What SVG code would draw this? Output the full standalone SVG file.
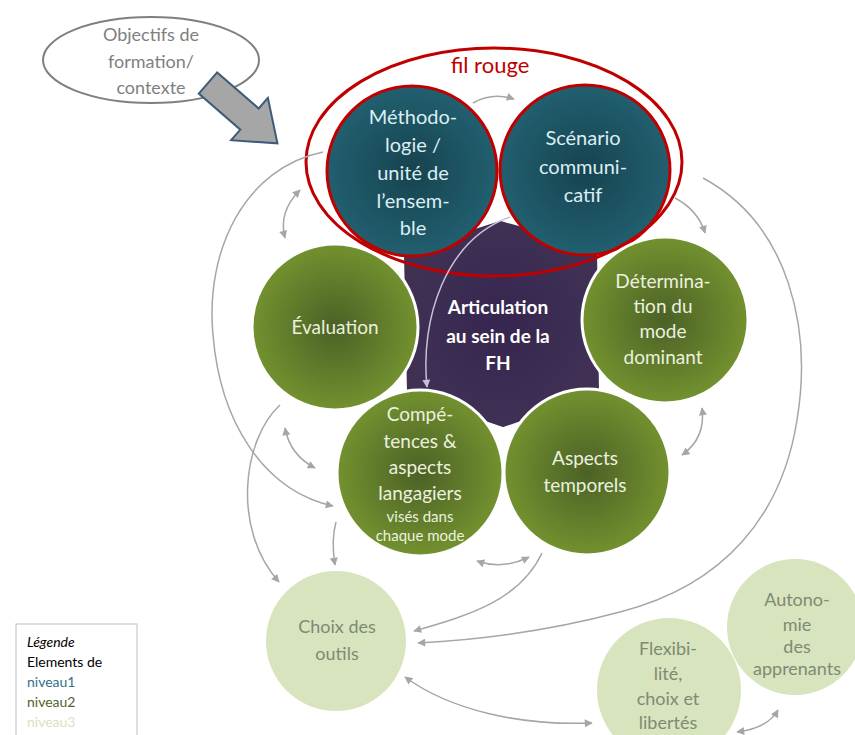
<svg xmlns="http://www.w3.org/2000/svg" width="855" height="735" viewBox="0 0 855 735">
<defs>
<style>
.t{font-family:Lato,"Liberation Sans",sans-serif;text-anchor:middle}
.con{fill:none;stroke:#a6a6a6;stroke-width:1.5}
.teal{fill:url(#gTeal);stroke:#c00000;stroke-width:3}
.grn{fill:url(#gGrn);stroke:#ffffff;stroke-width:3}
.lgt{fill:#d7e4bd}
.tt{fill:#dbeef4;font-size:20px}
.gt{fill:#ebf1de;font-size:19px}
.lt{fill:#7f8a74;font-size:18px}
</style>
<radialGradient id="gTeal" cx="50%" cy="50%" r="50%"><stop offset="0" stop-color="#17434f"/><stop offset="1" stop-color="#215f6f"/></radialGradient>
<radialGradient id="gGrn" cx="50%" cy="50%" r="50%"><stop offset="0" stop-color="#4b6126"/><stop offset="1" stop-color="#73912f"/></radialGradient>
<radialGradient id="gPur" cx="50%" cy="50%" r="50%"><stop offset="0" stop-color="#362650"/><stop offset="1" stop-color="#3f3054"/></radialGradient>
<marker id="ah" viewBox="0 0 10 10" refX="9" refY="5" markerWidth="9" markerHeight="8" markerUnits="userSpaceOnUse" orient="auto-start-reverse"><path d="M0,0 L10,5 L0,10 z" fill="#a6a6a6"/></marker>
<marker id="ahl" viewBox="0 0 10 10" refX="9" refY="5" markerWidth="9" markerHeight="8" markerUnits="userSpaceOnUse" orient="auto-start-reverse"><path d="M0,0 L10,5 L0,10 z" fill="#c9bfd8"/></marker>
</defs>
<rect width="855" height="735" fill="#ffffff"/>

<g id="objectifs">
<ellipse cx="151" cy="60" rx="108" ry="43" fill="#ffffff" stroke="#7f7f7f" stroke-width="2"/>
<text class="t" x="151" y="41" font-size="18" fill="#7f7f7f">Objectifs de</text>
<text class="t" x="151" y="68" font-size="18" fill="#7f7f7f">formation/</text>
<text class="t" x="151" y="94" font-size="18" fill="#7f7f7f">contexte</text>
</g>
<g id="bigarrow">
<polygon points="0,-14 55,-14 55,-28 92,0 55,28 55,14 0,14" transform="translate(208,83) rotate(41)" fill="#a6a6a6" stroke="#3f5b7a" stroke-width="2" stroke-linejoin="miter"/>
</g>

<g id="articulation">
<polygon points="500,224 594,250 596,392 503,424 410,392 407,254" fill="url(#gPur)" stroke="#3f3054" stroke-width="6" stroke-linejoin="round"/>
</g>

<g id="methodologie">
<circle class="teal" cx="412" cy="171" r="85"/>
<text class="t tt" x="413" y="124">Méthodo-</text>
<text class="t tt" x="413" y="152">logie /</text>
<text class="t tt" x="413" y="180">unité de</text>
<text class="t tt" x="413" y="208">l’ensem-</text>
<text class="t tt" x="413" y="235">ble</text>
</g>
<g id="scenario">
<circle class="teal" cx="585" cy="170" r="85"/>
<text class="t tt" x="583" y="145">Scénario</text>
<text class="t tt" x="583" y="174">communi-</text>
<text class="t tt" x="583" y="202">catif</text>
</g>
<g id="filrouge">
<ellipse cx="494" cy="162" rx="188" ry="114" fill="none" stroke="#c00000" stroke-width="3"/>
<text class="t" x="490" y="73" font-size="22" fill="#c00000">fil rouge</text>
</g>

<g id="articulation-label">
<text class="t" x="498" y="314" font-size="19" font-weight="bold" fill="#ffffff">Articulation</text>
<text class="t" x="498" y="343" font-size="19" font-weight="bold" fill="#ffffff">au sein de la</text>
<text class="t" x="498" y="370" font-size="19" font-weight="bold" fill="#ffffff">FH</text>
</g>

<g id="evaluation">
<circle class="grn" cx="335" cy="327" r="83"/>
<text class="t gt" x="335" y="334">Évaluation</text>
</g>
<g id="determination">
<circle class="grn" cx="665" cy="320" r="83"/>
<text class="t gt" x="663" y="288" font-size="18">Détermina-</text>
<text class="t gt" x="663" y="313" font-size="18">tion du</text>
<text class="t gt" x="663" y="338" font-size="18">mode</text>
<text class="t gt" x="663" y="364" font-size="18">dominant</text>
</g>
<g id="competences">
<circle class="grn" cx="420" cy="473" r="83"/>
<text class="t gt" x="420" y="421">Compé-</text>
<text class="t gt" x="420" y="448">tences &amp;</text>
<text class="t gt" x="420" y="474">aspects</text>
<text class="t gt" x="420" y="500">langagiers</text>
<text class="t" x="420" y="522" font-size="15" fill="#ebf1de">visés dans</text>
<text class="t" x="420" y="541" font-size="15" fill="#ebf1de">chaque mode</text>
</g>
<g id="aspects">
<circle class="grn" cx="587" cy="472" r="83"/>
<text class="t gt" x="585" y="465">Aspects</text>
<text class="t gt" x="585" y="492">temporels</text>
</g>

<g id="choix">
<circle class="lgt" cx="336" cy="641" r="70"/>
<text class="t lt" x="337" y="633" font-size="17">Choix  des</text>
<text class="t lt" x="337" y="660" font-size="17">outils</text>
</g>
<g id="flexibilite">
<circle class="lgt" cx="669" cy="690" r="72"/>
<text class="t lt" x="668" y="655" font-size="19">Flexibi-</text>
<text class="t lt" x="668" y="680" font-size="19">lité,</text>
<text class="t lt" x="668" y="705" font-size="19">choix et</text>
<text class="t lt" x="668" y="729" font-size="19">libertés</text>
</g>
<g id="autonomie">
<circle class="lgt" cx="795" cy="627" r="68"/>
<text class="t lt" x="797" y="606" font-size="19">Autono-</text>
<text class="t lt" x="797" y="631" font-size="19">mie</text>
<text class="t lt" x="797" y="653" font-size="15">des</text>
<text class="t lt" x="797" y="675" font-size="14">apprenants</text>
</g>

<g id="connectors">
<path class="con" d="M473,103 Q492,92 514,99" marker-end="url(#ah)"/>
<path class="con" d="M675,198 Q698,210 705,233" marker-end="url(#ah)"/>
<path class="con" d="M703,178 C790,225 812,330 797,420 C782,515 725,585 620,612 C545,632 475,640 418,643" marker-end="url(#ah)"/>
<path class="con" d="M323,152 C245,168 205,250 213,335 C220,420 262,490 333,506" marker-end="url(#ah)"/>
<path class="con" d="M300,190 Q278,212 285,238" marker-start="url(#ah)" marker-end="url(#ah)"/>
<path class="con" d="M702,408 Q706,438 682,455" marker-start="url(#ah)" marker-end="url(#ah)"/>
<path class="con" d="M285,428 Q290,455 315,468" marker-start="url(#ah)" marker-end="url(#ah)"/>
<path class="con" d="M280,405 C242,440 232,530 279,582" marker-end="url(#ah)"/>
<path class="con" d="M336,522 Q331,540 335,565" marker-end="url(#ah)"/>
<path class="con" d="M477,561 Q503,570 529,557" marker-start="url(#ah)" marker-end="url(#ah)"/>
<path class="con" d="M542,553 C520,600 470,615 414,631" marker-end="url(#ah)"/>
<path class="con" d="M405,677 C450,710 520,726 592,723" marker-start="url(#ah)" marker-end="url(#ah)"/>
<path class="con" d="M737,732 Q768,728 778,710" marker-start="url(#ah)" marker-end="url(#ah)"/>
<path d="M510,217 C445,240 420,320 427,387" fill="none" stroke="#c9bfd8" stroke-width="1.5" marker-end="url(#ahl)"/>
</g>

<g id="legende">
<rect x="16" y="624" width="121" height="115" fill="#ffffff" stroke="#bfbfbf" stroke-width="1"/>
<text x="27" y="647" font-family="Lato,'Liberation Sans',sans-serif" font-size="14" font-style="italic" fill="#000000">Légende</text>
<text x="27" y="667" font-family="Lato,'Liberation Sans',sans-serif" font-size="14" fill="#000000">Elements de</text>
<text x="27" y="687" font-family="Lato,'Liberation Sans',sans-serif" font-size="14" fill="#31708a">niveau1</text>
<text x="27" y="707" font-family="Lato,'Liberation Sans',sans-serif" font-size="14" fill="#4f6228">niveau2</text>
<text x="27" y="727" font-family="Lato,'Liberation Sans',sans-serif" font-size="14" fill="#d7e4bd">niveau3</text>
</g>
</svg>
